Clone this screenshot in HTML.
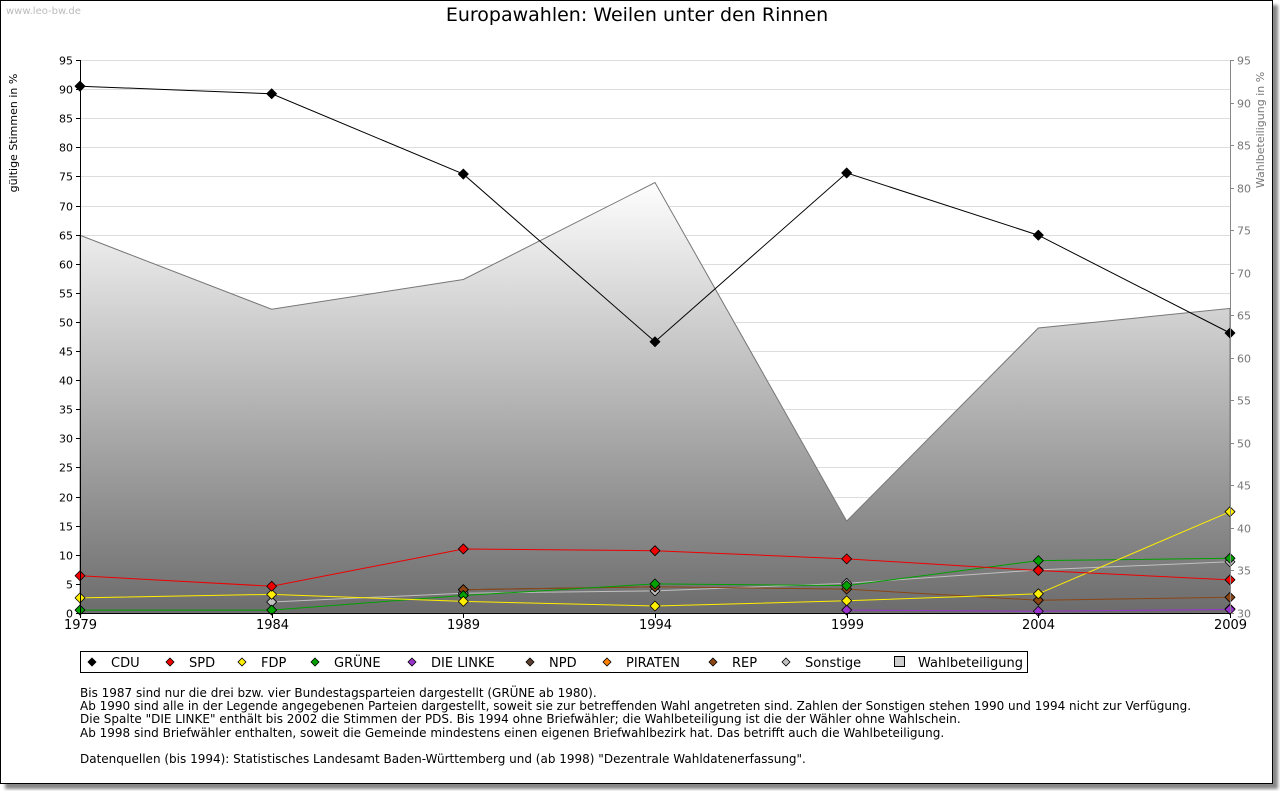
<!DOCTYPE html>
<html><head><meta charset="utf-8">
<style>
body{margin:0;width:1280px;height:791px;background:#fff;font-family:"DejaVu Sans","Liberation Sans",sans-serif;overflow:hidden}
#frame{position:absolute;left:0;top:0;width:1271px;height:782px;border:1px solid #000;box-shadow:5px 5px 3px #888;background:#fff}
#notes{position:absolute;left:80px;top:687px;font-size:12px;line-height:13.2px;color:#000;white-space:pre}
svg text{font-family:"DejaVu Sans","Liberation Sans",sans-serif}
</style></head><body>
<div id="frame"></div>
<svg id="chart" width="1280" height="791" style="position:absolute;left:0;top:0">
<defs>
<linearGradient id="area" x1="0" y1="180" x2="0" y2="613" gradientUnits="userSpaceOnUse"><stop offset="0" stop-color="#ffffff"/><stop offset="1" stop-color="#6c6c6c"/></linearGradient></defs>
<text x="6" y="14" font-size="10" fill="#bbb">www.leo-bw.de</text>
<text x="637" y="21" font-size="19" text-anchor="middle">Europawahlen: Weilen unter den Rinnen</text>
<text transform="translate(17,133) rotate(-90)" font-size="11" text-anchor="middle">gültige Stimmen in %</text>
<text transform="translate(1264,130) rotate(-90)" font-size="11" fill="#777" text-anchor="middle">Wahlbeteiligung in %</text>
<g id="grid"></g><g id="areaG"></g><g id="lines"></g><g id="axes"></g>
<rect x="80.5" y="651.5" width="947" height="21" fill="none" stroke="#000"/>
<g id="legend"></g>
</svg>
<div id="notes">Bis 1987 sind nur die drei bzw. vier Bundestagsparteien dargestellt (GRÜNE ab 1980).
Ab 1990 sind alle in der Legende angegebenen Parteien dargestellt, soweit sie zur betreffenden Wahl angetreten sind. Zahlen der Sonstigen stehen 1990 und 1994 nicht zur Verfügung.
Die Spalte "DIE LINKE" enthält bis 2002 die Stimmen der PDS. Bis 1994 ohne Briefwähler; die Wahlbeteiligung ist die der Wähler ohne Wahlschein.
Ab 1998 sind Briefwähler enthalten, soweit die Gemeinde mindestens einen eigenen Briefwahlbezirk hat. Das betrifft auch die Wahlbeteiligung.

Datenquellen (bis 1994): Statistisches Landesamt Baden-Württemberg und (ab 1998) "Dezentrale Wahldatenerfassung".</div>
<script>
const years=[1979,1984,1989,1994,1999,2004,2009];
const cdu=[90.5,89.2,75.4,46.6,75.6,64.9,48.1];
const spd=[6.4,4.6,11.0,10.7,9.3,7.3,5.7];
const fdp=[2.6,3.2,2.0,1.2,2.1,3.3,17.4];
const gruene=[0.5,0.5,3.0,5.0,4.7,9.0,9.4];
const linke=[null,null,null,null,0.5,0.3,0.6];
const npd=[null,null,4.0,4.5,null,null,null];
const piraten=[null,null,null,null,null,null,0.7];
const rep=[null,null,4.0,4.5,4.1,2.2,2.7];
const sonstige=[null,1.9,3.4,3.8,5.1,7.4,8.8];
const turnout=[74.4,65.7,69.2,80.6,40.8,63.5,65.8];
const leftTicks=[0,5,10,15,20,25,30,35,40,45,50,55,60,65,70,75,80,85,90,95];
const rightTicks=[30,35,40,45,50,55,60,65,70,75,80,85,90,95];
const NS="http://www.w3.org/2000/svg";
const X0=80,X1=1230,YT=60,YB=613;
const xs=i=>X0+(X1-X0)*i/(years.length-1);
const yl=v=>YB-(YB-YT)*v/95;
const yr=v=>YB-(YB-YT)*(v-30)/65;
function mk(t,a,p){const e=document.createElementNS(NS,t);for(const k in a)e.setAttribute(k,a[k]);p.appendChild(e);return e;}
const grid=document.getElementById('grid'),axes=document.getElementById('axes');
leftTicks.forEach(v=>{const y=Math.round(yl(v))+.5;
 const l=mk('line',{x1:X0,x2:X1,y1:y,y2:y,stroke:'#ddd'},grid);
 
 mk('line',{x1:X0-4,x2:X0,y1:y,y2:y,stroke:'#000'},axes);
 const t=mk('text',{x:X0-7,y:y+4,'font-size':11,'text-anchor':'end'},axes);t.textContent=v;
 });
rightTicks.forEach(v=>{const y=Math.round(yr(v))+.5;
 mk('line',{x1:X1,x2:X1+4,y1:y,y2:y,stroke:'#888'},axes);
 const t=mk('text',{x:X1+7,y:y+4,'font-size':11,fill:'#777'},axes);t.textContent=v;
 });
const ag=document.getElementById('areaG');
let d='M'+X0+','+YB;years.forEach((y,i)=>d+=' L'+xs(i)+','+yr(turnout[i]));d+=' L'+X1+','+YB+' Z';
const ar=mk('path',{d:d,fill:'url(#area)',stroke:'#777'},ag);

mk('line',{x1:X0+.5,x2:X0+.5,y1:YT,y2:YB,stroke:'#000'},axes);
mk('line',{x1:X1+.5,x2:X1+.5,y1:YT,y2:YB,stroke:'#888'},axes);
mk('line',{x1:X0,x2:X1,y1:YB+.5,y2:YB+.5,stroke:'#000'},axes);
years.forEach((yv,i)=>{const x=Math.round(xs(i))+.5;mk('line',{x1:x,x2:x,y1:YB,y2:YB+5,stroke:'#000'},axes);
 const t=mk('text',{x:x,y:YB+16,'font-size':13,'text-anchor':'middle'},axes);t.textContent=yv;
 });
const series=[['sonstige',sonstige,'#c0c0c0'],['npd',npd,'#5a4030'],['rep',rep,'#8b4513'],['piraten',piraten,'#ff8000'],['linke',linke,'#9933cc'],['gruene',gruene,'#00a000'],['fdp',fdp,'#ffee00'],['spd',spd,'#ee0000'],['cdu',cdu,'#000000']];
const lg=document.getElementById('lines');
series.forEach(([n,arr,c])=>{let p='';arr.forEach((v,i)=>{if(v==null)return;p+=(p?' L':'M')+xs(i)+','+yl(v);});
 const pl=mk('path',{d:p,fill:'none',stroke:c,'stroke-width':1},lg);
 
 arr.forEach((v,i)=>{if(v==null)return;const x=xs(i),y=yl(v);
  const m=mk('path',{d:`M${x},${y-5} L${x+5},${y} L${x},${y+5} L${x-5},${y} Z`,fill:c,stroke:'#000','stroke-width':.8,'stroke-linejoin':'round'},lg);
  });});
const leg=[['CDU','#000',88],['SPD','#ee0000',166],['FDP','#ffee00',238],['GRÜNE','#00a000',311],['DIE LINKE','#9933cc',408],['NPD','#5a4030',526],['PIRATEN','#ff8000',603],['REP','#8b4513',709],['Sonstige','#c0c0c0',782]];
const L=document.getElementById('legend');
leg.forEach(([t,c,x])=>{const cx=x+4,cy=662;
 const m=mk('path',{d:`M${cx},${cy-4} L${cx+4},${cy} L${cx},${cy+4} L${cx-4},${cy} Z`,fill:c,stroke:'#000','stroke-width':.8},L);
 
 const tx=mk('text',{x:x+23,y:667,'font-size':13},L);tx.textContent=t;
 });
const sq=mk('rect',{x:894.5,y:656.5,width:10,height:10,fill:'#ccc',stroke:'#000'},L);

const tw=mk('text',{x:918,y:667,'font-size':13},L);tw.textContent='Wahlbeteiligung';

</script>
</body></html>
